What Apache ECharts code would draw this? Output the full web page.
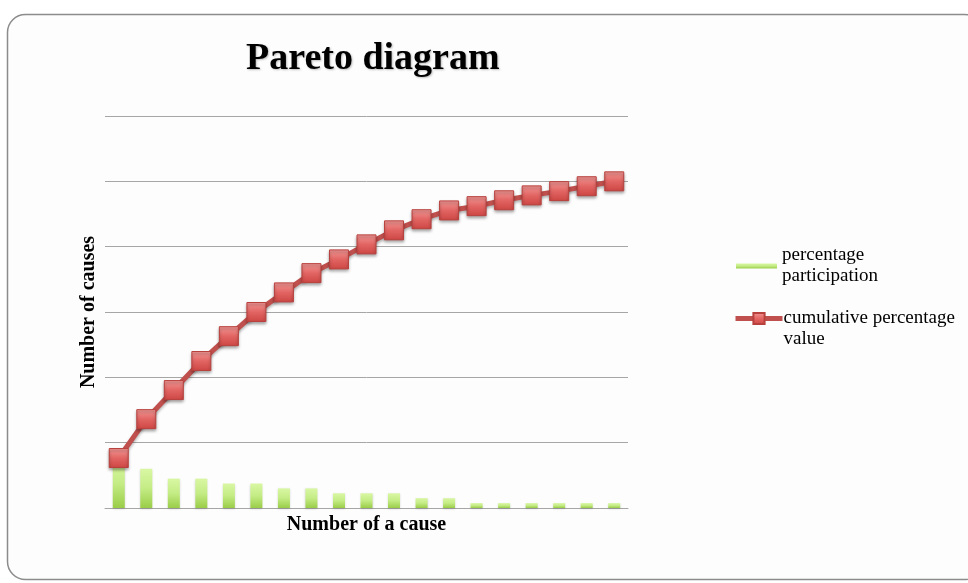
<!DOCTYPE html>
<html>
<head>
<meta charset="utf-8">
<title>Pareto diagram</title>
<script src="https://cdn.jsdelivr.net/npm/echarts@6/dist/echarts.min.js"></script>
<style>
  html, body { margin: 0; padding: 0; background: #ffffff; }
  #chart { width: 968px; height: 583px; }
</style>
</head>
<body>
<div id="chart"></div>
<script>
// Causes, numbered 1..19
var causes = ['1','2','3','4','5','6','7','8','9','10','11','12','13','14','15','16','17','18','19'];
// Share of each cause (percent)
var participation = [15, 12, 9, 9, 7.5, 7.5, 6, 6, 4.5, 4.5, 4.5, 3, 3, 1.5, 1.5, 1.5, 1.5, 1.5, 1.5];
// Running total of the shares (percent)
var cumulative = [15.3, 27.2, 36.1, 45, 52.6, 60, 66, 71.9, 76.1, 80.7, 85, 88.4, 91.1, 92.4, 94.2, 95.7, 97, 98.5, 100];

var serif = '"Liberation Serif", "DejaVu Serif", serif';
var chart = echarts.init(document.getElementById('chart'), null, { renderer: 'canvas' });

chart.setOption({
  backgroundColor: '#ffffff',
  animation: false,
  graphic: [{
    type: 'rect',
    z: -10,
    silent: true,
    shape: { x: 7.5, y: 14.5, width: 975, height: 565, r: 18 },
    style: { fill: '#fdfdfd', stroke: '#8c8c8c', lineWidth: 1.5 }
  }],
  title: {
    text: 'Pareto diagram',
    left: 241,
    top: 35,
    textStyle: {
      fontFamily: serif, fontSize: 38, fontWeight: 'bold', color: '#000',
      textShadowColor: 'rgba(0,0,0,0.25)', textShadowBlur: 2, textShadowOffsetX: 1, textShadowOffsetY: 1
    }
  },
  legend: [{
    data: [{ name: 'percentage participation', icon: 'rect' }],
    orient: 'vertical',
    left: 731,
    top: 240,
    itemWidth: 41,
    itemHeight: 5,
    selectedMode: false,
    formatter: function () { return 'percentage\nparticipation'; },
    textStyle: { fontFamily: serif, fontSize: 19, color: '#000', lineHeight: 21 }
  }, {
    data: ['cumulative percentage value'],
    orient: 'vertical',
    left: 728,
    top: 282,
    itemWidth: 47,
    itemHeight: 14,
    selectedMode: false,
    lineStyle: { color: '#c0504d', width: 5 },
    // leading blank line keeps the marker level with the first text line
    formatter: function () { return '\ncumulative percentage\nvalue'; },
    textStyle: { fontFamily: serif, fontSize: 19, color: '#000', lineHeight: 21, padding: [0, 0, 0, -4] }
  }],
  grid: { left: 105, right: 340, top: 116, bottom: 75, containLabel: false },
  xAxis: {
    type: 'category',
    data: causes,
    boundaryGap: true,
    name: 'Number of a cause',
    nameLocation: 'middle',
    nameGap: 7,
    nameTextStyle: { fontFamily: serif, fontSize: 20, fontWeight: 'bold', color: '#000', verticalAlign: 'top' },
    axisLine: { lineStyle: { color: '#a6a6a6', width: 1 } },
    axisTick: { show: false },
    axisLabel: { show: false }
  },
  yAxis: {
    type: 'value',
    min: 0,
    max: 120,
    interval: 20,
    name: 'Number of causes',
    nameLocation: 'middle',
    nameRotate: 90,
    nameGap: 6,
    nameTextStyle: { fontFamily: serif, fontSize: 20, fontWeight: 'bold', color: '#000' },
    axisLine: { show: false },
    axisTick: { show: false },
    axisLabel: { show: false },
    splitLine: { lineStyle: { color: '#a6a6a6', width: 1 } }
  },
  series: [{
    name: 'percentage participation',
    type: 'bar',
    data: participation,
    barWidth: 12,
    itemStyle: {
      color: new echarts.graphic.LinearGradient(0, 0, 0, 1, [
        { offset: 0, color: '#d9f7a3' },
        { offset: 0.5, color: '#c4ec85' },
        { offset: 1, color: '#9acd48' }
      ]),
      shadowColor: 'rgba(0,0,0,0.15)', shadowBlur: 2, shadowOffsetY: 1
    }
  }, {
    name: 'cumulative percentage value',
    type: 'line',
    data: cumulative,
    showSymbol: true,
    showAllSymbol: true,
    symbol: 'rect',
    symbolSize: 19,
    lineStyle: { color: '#c0504d', width: 5, shadowColor: 'rgba(0,0,0,0.3)', shadowBlur: 3, shadowOffsetY: 2 },
    itemStyle: {
      color: new echarts.graphic.LinearGradient(0, 0, 0, 1, [
        { offset: 0, color: '#f39a98' },
        { offset: 0.5, color: '#e26563' },
        { offset: 1, color: '#cc4643' }
      ]),
      borderColor: '#b8403d',
      borderWidth: 1,
      shadowColor: 'rgba(0,0,0,0.35)', shadowBlur: 3, shadowOffsetY: 2
    },
    z: 3
  }]
});
</script>
</body>
</html>
